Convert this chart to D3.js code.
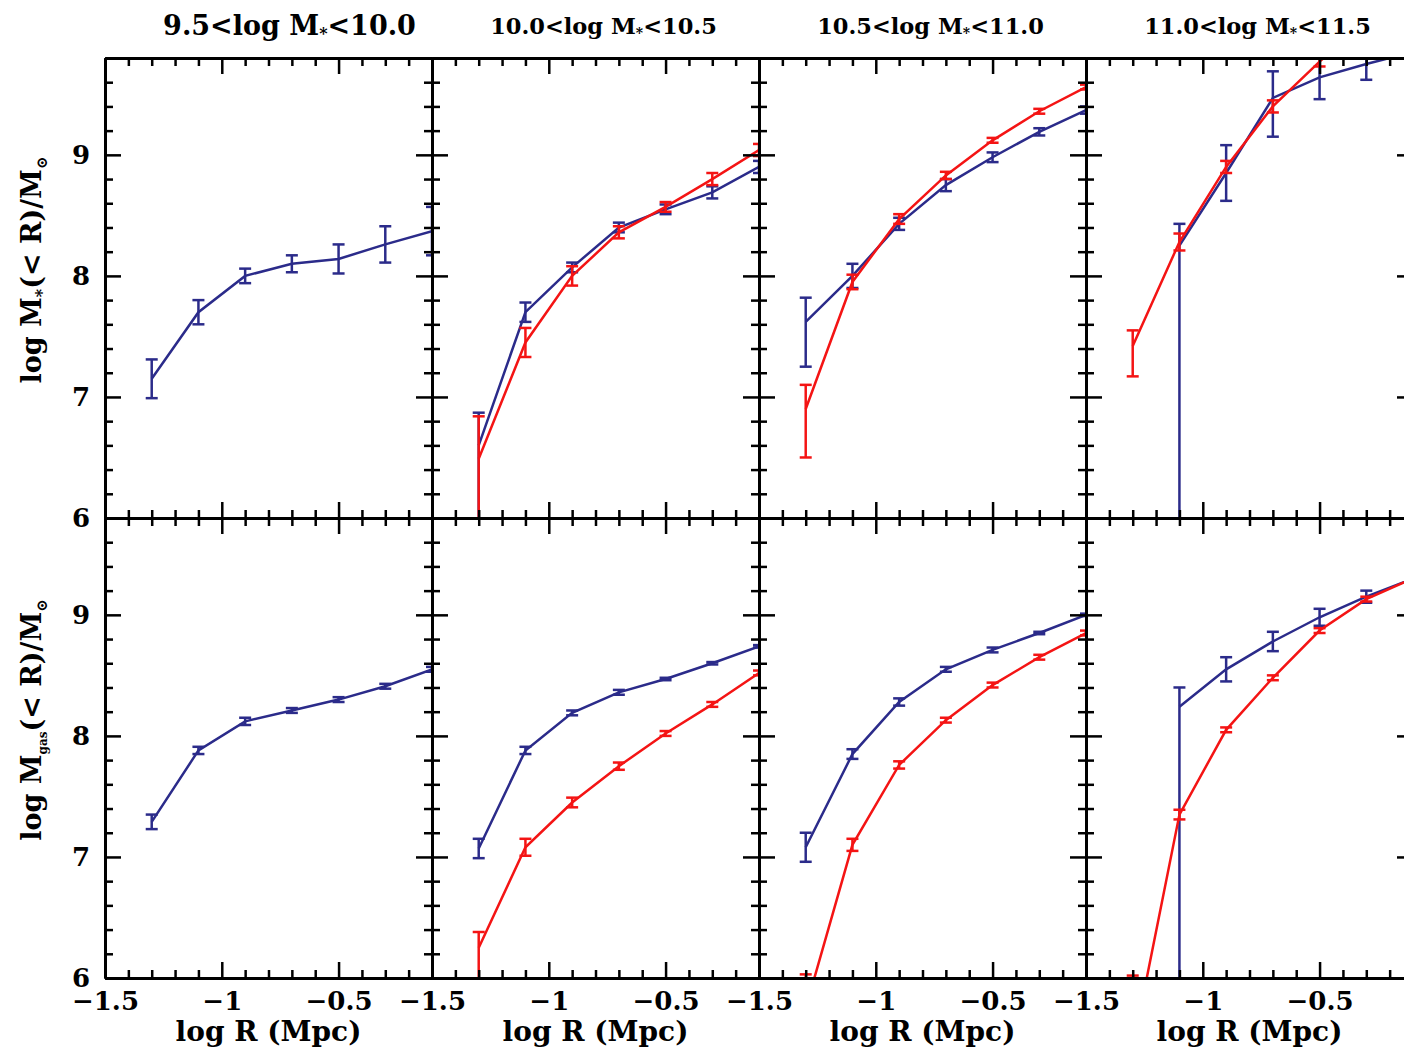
<!DOCTYPE html>
<html>
<head>
<meta charset="utf-8">
<script src="https://cdn.jsdelivr.net/npm/d3@7"></script>
<style>
  body { margin: 0; background: #fff; }
  text { font-family: "DejaVu Serif", "Liberation Serif", serif; font-weight: bold; }
</style>
</head>
<body>
<div id="chart"></div>
<script>
// radial bins (log R / Mpc)
const logR = [-1.3, -1.1, -0.9, -0.7, -0.5, -0.3, -0.1];

// stellar mass bins, one per column
const binLo = ["9.5", "10.0", "10.5", "11.0"];
const binHi = ["10.0", "10.5", "11.0", "11.5"];

// top row: log M*(<R), blue and red, one array per column
const mstarBlue = [
  [7.15, 7.7, 8.0, 8.1, 8.14, 8.26, 8.37],
  [6.6, 7.7, 8.07, 8.4, 8.55, 8.69, 8.9],
  [7.62, 8.0, 8.43, 8.75, 8.98, 9.19, 9.37],
  [null, 8.25, 8.85, 9.47, 9.64, 9.75, 9.85]
];
const mstarBlueErr = [
  [0.16, 0.1, 0.06, 0.07, 0.12, 0.15, 0.2],
  [[0.7, 0.27], 0.08, 0.04, 0.04, 0.04, 0.05, 0.05],
  [[0.37, 0.2], 0.1, 0.05, 0.05, 0.04, 0.03, 0.03],
  [null, [2.5, 0.18], 0.23, [0.32, 0.22], 0.18, 0.13, 0.1]
];
const mstarRed = [
  null,
  [6.49, 7.45, 8.0, 8.36, 8.57, 8.8, 9.04],
  [6.9, 7.95, 8.47, 8.83, 9.12, 9.36, 9.56],
  [7.42, 8.28, 8.9, 9.4, 9.77, 10.1, 10.35]
];
const mstarRedErr = [
  null,
  [[0.6, 0.35], 0.12, 0.08, 0.05, 0.04, 0.05, 0.05],
  [[0.4, 0.2], 0.06, 0.04, 0.03, 0.02, 0.02, 0.02],
  [[0.25, 0.13], 0.07, 0.05, 0.05, 0.04, 0.04, 0.04]
];

// bottom row: log Mgas(<R)
const mgasBlue = [
  [7.29, 7.88, 8.12, 8.21, 8.3, 8.41, 8.55],
  [7.07, 7.88, 8.19, 8.36, 8.47, 8.6, 8.74],
  [7.08, 7.85, 8.28, 8.55, 8.71, 8.85, 9.0],
  [null, 8.24, 8.55, 8.78, 8.98, 9.15, 9.3]
];
const mgasBlueErr = [
  [0.06, 0.03, 0.03, 0.02, 0.02, 0.02, 0.02],
  [0.08, 0.03, 0.02, 0.02, 0.01, 0.01, 0.01],
  [0.12, 0.04, 0.03, 0.02, 0.02, 0.01, 0.01],
  [null, [2.5, 0.16], 0.1, 0.08, 0.07, 0.05, 0.04]
];
const mgasRed = [
  null,
  [6.25, 7.08, 7.45, 7.75, 8.02, 8.26, 8.52],
  [5.75, 7.1, 7.76, 8.13, 8.42, 8.65, 8.85],
  [5.42, 7.35, 8.05, 8.48, 8.87, 9.13, 9.3]
];
const mgasRedErr = [
  null,
  [[0.4, 0.13], 0.07, 0.04, 0.03, 0.02, 0.02, 0.02],
  [0.28, 0.05, 0.03, 0.02, 0.02, 0.02, 0.02],
  [0.6, 0.04, 0.02, 0.02, 0.02, 0.02, 0.02]
];

const xMajor = [-1.5, -1, -0.5];
const xLabels = ["\u22121.5", "\u22121", "\u22120.5"];
const yMajor = [6, 7, 8, 9];

const width = 1404;
const height = 1053;
const marginLeft = 105;
const marginTop = 58;
const pw = 327;
const ph = 460;
const blue = "#2b2b8a";
const red = "#f41414";

const x = d3.scaleLinear().domain([-1.5, -0.1]).range([0, pw]);
const y = d3.scaleLinear().domain([6, 9.8]).range([ph, 0]);

const xMinor = d3.range(-15, 0).map((i) => i / 10).filter((v) => !xMajor.includes(v));
const yMinor = d3.range(30, 50).map((i) => i / 5).filter((v) => !Number.isInteger(v));

const rows = [
  { blue: mstarBlue, blueErr: mstarBlueErr, red: mstarRed, redErr: mstarRedErr },
  { blue: mgasBlue, blueErr: mgasBlueErr, red: mgasRed, redErr: mgasRedErr }
];

const svg = d3
  .select("#chart")
  .append("svg")
  .attr("width", width)
  .attr("height", height);

function styleAxis(sel) {
  sel.select(".domain").attr("stroke-width", 3);
  sel.selectAll(".tick line").attr("stroke-width", 2.5);
  sel.selectAll("text").attr("font-size", 26).attr("fill", "#000");
}

// draws one axis twice: long major ticks and short minor ticks, pointing inward
function drawAxis(g, make, scale, transform, labels) {
  const major = make(scale)
    .tickValues(scale === x ? xMajor : yMajor)
    .tickSize(-16)
    .tickSizeOuter(0)
    .tickPadding(scale === x ? 14 : 15)
    .tickFormat(labels ? (d, i) => labels[i] : "");
  const minor = make(scale)
    .tickValues(scale === x ? xMinor : yMinor)
    .tickSize(-8)
    .tickSizeOuter(0)
    .tickFormat("");
  g.append("g").attr("transform", transform).call(minor).call(styleAxis);
  g.append("g").attr("transform", transform).call(major).call(styleAxis);
}

function errRange(v, e) {
  if (Array.isArray(e)) return [v - e[0], v + e[1]];
  return [v - e, v + e];
}

function drawSeries(g, vals, errs, color) {
  if (!vals) return;
  const pts = logR
    .map((r, i) => ({ r, v: vals[i], e: errs[i] }))
    .filter((d) => d.v != null);

  const line = d3
    .line()
    .x((d) => x(d.r))
    .y((d) => y(d.v));

  g.append("path")
    .datum(pts)
    .attr("fill", "none")
    .attr("stroke", color)
    .attr("stroke-width", 2.5)
    .attr("d", line);

  const bars = g.append("g").selectAll("g").data(pts).enter().append("g");
  bars
    .append("line")
    .attr("x1", (d) => x(d.r))
    .attr("x2", (d) => x(d.r))
    .attr("y1", (d) => y(errRange(d.v, d.e)[0]))
    .attr("y2", (d) => y(errRange(d.v, d.e)[1]))
    .attr("stroke", color)
    .attr("stroke-width", 2.5);
  [0, 1].forEach((k) => {
    bars
      .append("line")
      .attr("x1", (d) => x(d.r) - 6)
      .attr("x2", (d) => x(d.r) + 6)
      .attr("y1", (d) => y(errRange(d.v, d.e)[k]))
      .attr("y2", (d) => y(errRange(d.v, d.e)[k]))
      .attr("stroke", color)
      .attr("stroke-width", 2.5);
  });
}

rows.forEach((row, r) => {
  for (let c = 0; c < 4; c++) {
    const g = svg
      .append("g")
      .attr("transform", `translate(${marginLeft + c * pw},${marginTop + r * ph})`);

    const clipId = `clip-${r}-${c}`;
    g.append("clipPath")
      .attr("id", clipId)
      .append("rect")
      .attr("width", pw)
      .attr("height", ph);

    const plot = g.append("g").attr("clip-path", `url(#${clipId})`);
    drawSeries(plot, row.blue[c], row.blueErr[c], blue);
    drawSeries(plot, row.red[c], row.redErr[c], red);

    drawAxis(g, d3.axisTop, x, "translate(0,0)", null);
    drawAxis(g, d3.axisBottom, x, `translate(0,${ph})`, r == 1 ? xLabels : null);
    drawAxis(g, d3.axisLeft, y, "translate(0,0)", c == 0 ? yMajor.map(String) : null);
    drawAxis(g, d3.axisRight, y, `translate(${pw},0)`, null);

    if (r == 1) {
      g.append("text")
        .attr("x", pw / 2)
        .attr("y", ph + 63)
        .attr("text-anchor", "middle")
        .attr("font-size", 28)
        .text("log R (Mpc)");
    }
  }
});

// column titles
binLo.forEach((lo, c) => {
  const t = svg
    .append("text")
    .attr("x", marginLeft + c * pw + pw / 2 + (c == 0 ? 21 : 8))
    .attr("y", c == 0 ? 35 : 34)
    .attr("text-anchor", "middle")
    .attr("font-size", c == 0 ? 27 : 22.5);
  t.append("tspan").text(`${lo}<log M`);
  t.append("tspan").attr("font-size", c == 0 ? 16 : 14).attr("dy", 4).text("*");
  t.append("tspan").attr("dy", -4).text(`<${binHi[c]}`);
});

// y axis titles
function yTitle(cy, sub, subSize) {
  const t = svg
    .append("text")
    .attr("transform", `translate(41,${cy}) rotate(-90)`)
    .attr("text-anchor", "middle")
    .attr("font-size", 27);
  t.append("tspan").text("log M");
  t.append("tspan").attr("font-size", subSize).attr("dy", 6).text(sub);
  t.append("tspan").attr("dy", -6).text("(< R)/M");
  t.append("tspan").attr("font-size", 15).attr("dy", 6).text("\u2299");
}
yTitle(270, "*", 16);
yTitle(720, "gas", 12);
</script>
</body>
</html>
